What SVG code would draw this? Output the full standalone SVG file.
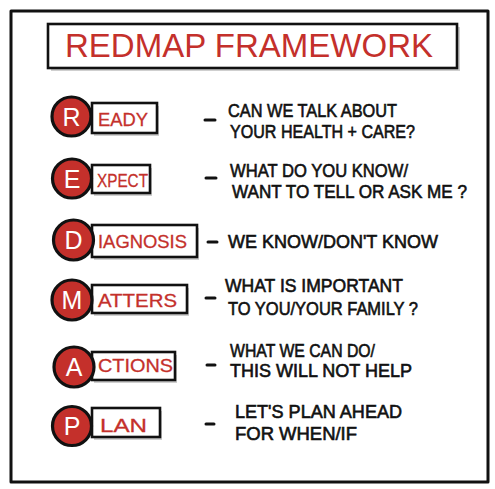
<svg xmlns="http://www.w3.org/2000/svg" width="495" height="489" viewBox="0 0 495 489">
<style>
.frame{fill:#fff;stroke:#111;stroke-width:3;stroke-linejoin:round}
.shadow{fill:#cfcfcf;stroke:none}
.box{fill:#fff;stroke:#111;stroke-width:2.6}
.circ{fill:#c4302b;stroke:#111;stroke-width:3.2}
.ini{fill:#fff;font-family:"Liberation Sans",sans-serif;font-size:25px;text-anchor:middle}
.lab{fill:#c4302b;font-family:"Liberation Sans",sans-serif;font-size:19px;stroke:#c4302b;stroke-width:0.3}
.title{fill:#c4302b;font-family:"Liberation Sans",sans-serif;font-size:34px}
.desc{fill:#111;font-family:"Liberation Sans",sans-serif;font-size:18px;stroke:#111;stroke-width:0.6}
.dash{stroke:#111;stroke-width:3;stroke-linecap:round}
</style>
<rect width="495" height="489" fill="#fff"/>
<rect class="frame" x="11" y="11" width="477" height="471"/>
<g id="title">
<rect class="shadow" x="51" y="27" width="409" height="44"/>
<rect class="box" x="48" y="24" width="409" height="44"/>
<text class="title" x="65" y="57" textLength="368" lengthAdjust="spacingAndGlyphs">REDMAP FRAMEWORK</text>
</g>
<g id="ready">
<rect class="shadow" x="94" y="106" width="65" height="30"/>
<rect class="box" x="92" y="103" width="65" height="30"/>
<text class="lab" x="98" y="126" textLength="50" lengthAdjust="spacingAndGlyphs">EADY</text>
<circle class="circ" cx="71.5" cy="116.5" r="19.5"/>
<text class="ini" x="71.5" y="125.5">R</text>
<line class="dash" x1="205" y1="120" x2="215" y2="120"/>
<text class="desc" x="228" y="117" textLength="169" lengthAdjust="spacingAndGlyphs">CAN WE TALK ABOUT</text>
<text class="desc" x="230" y="138" textLength="185" lengthAdjust="spacingAndGlyphs">YOUR HEALTH + CARE?</text>
</g>
<g id="expect">
<rect class="shadow" x="94" y="168" width="58" height="28"/>
<rect class="box" x="92" y="165" width="58" height="28"/>
<text class="lab" x="97" y="187" textLength="51" lengthAdjust="spacingAndGlyphs">XPECT</text>
<circle class="circ" cx="72" cy="178.5" r="19.5"/>
<text class="ini" x="72" y="187.5">E</text>
<line class="dash" x1="206" y1="178" x2="216" y2="178"/>
<text class="desc" x="230" y="177" textLength="178" lengthAdjust="spacingAndGlyphs">WHAT DO YOU KNOW/</text>
<text class="desc" x="232" y="198" textLength="235" lengthAdjust="spacingAndGlyphs">WANT TO TELL OR ASK ME ?</text>
</g>
<g id="diagnosis">
<rect class="shadow" x="94" y="228" width="105" height="32"/>
<rect class="box" x="92" y="225" width="105" height="32"/>
<text class="lab" x="98" y="248" textLength="89" lengthAdjust="spacingAndGlyphs">IAGNOSIS</text>
<circle class="circ" cx="73.5" cy="240" r="20"/>
<text class="ini" x="73.5" y="249">D</text>
<line class="dash" x1="208" y1="242" x2="217" y2="242"/>
<text class="desc" x="228" y="248" textLength="210" lengthAdjust="spacingAndGlyphs">WE KNOW/DON'T KNOW</text>
</g>
<g id="matters">
<rect class="shadow" x="94" y="288" width="95" height="28"/>
<rect class="box" x="92" y="285" width="95" height="28"/>
<text class="lab" x="98" y="307" textLength="79" lengthAdjust="spacingAndGlyphs">ATTERS</text>
<circle class="circ" cx="72" cy="300" r="20"/>
<text class="ini" x="72" y="309">M</text>
<line class="dash" x1="206" y1="298" x2="215" y2="298"/>
<text class="desc" x="225" y="292" textLength="178" lengthAdjust="spacingAndGlyphs">WHAT IS IMPORTANT</text>
<text class="desc" x="228" y="315" textLength="190" lengthAdjust="spacingAndGlyphs">TO YOU/YOUR FAMILY ?</text>
</g>
<g id="actions">
<rect class="shadow" x="94" y="355" width="83" height="28"/>
<rect class="box" x="92" y="352" width="83" height="28"/>
<text class="lab" x="98" y="372" textLength="75" lengthAdjust="spacingAndGlyphs">CTIONS</text>
<circle class="circ" cx="74" cy="367" r="20"/>
<text class="ini" x="74" y="376">A</text>
<line class="dash" x1="207" y1="365" x2="215" y2="365"/>
<text class="desc" x="230" y="357" textLength="145" lengthAdjust="spacingAndGlyphs">WHAT WE CAN DO/</text>
<text class="desc" x="230" y="377" textLength="182" lengthAdjust="spacingAndGlyphs">THIS WILL NOT HELP</text>
</g>
<g id="plan">
<rect class="shadow" x="94" y="411" width="68" height="29"/>
<rect class="box" x="92" y="408" width="68" height="29"/>
<text class="lab" x="100" y="432" textLength="47" lengthAdjust="spacingAndGlyphs">LAN</text>
<circle class="circ" cx="72" cy="426" r="19.5"/>
<text class="ini" x="72" y="435">P</text>
<line class="dash" x1="206" y1="424" x2="214" y2="424"/>
<text class="desc" x="235" y="418" textLength="167" lengthAdjust="spacingAndGlyphs">LET'S PLAN AHEAD</text>
<text class="desc" x="235" y="440" textLength="122" lengthAdjust="spacingAndGlyphs">FOR WHEN/IF</text>
</g>
</svg>
